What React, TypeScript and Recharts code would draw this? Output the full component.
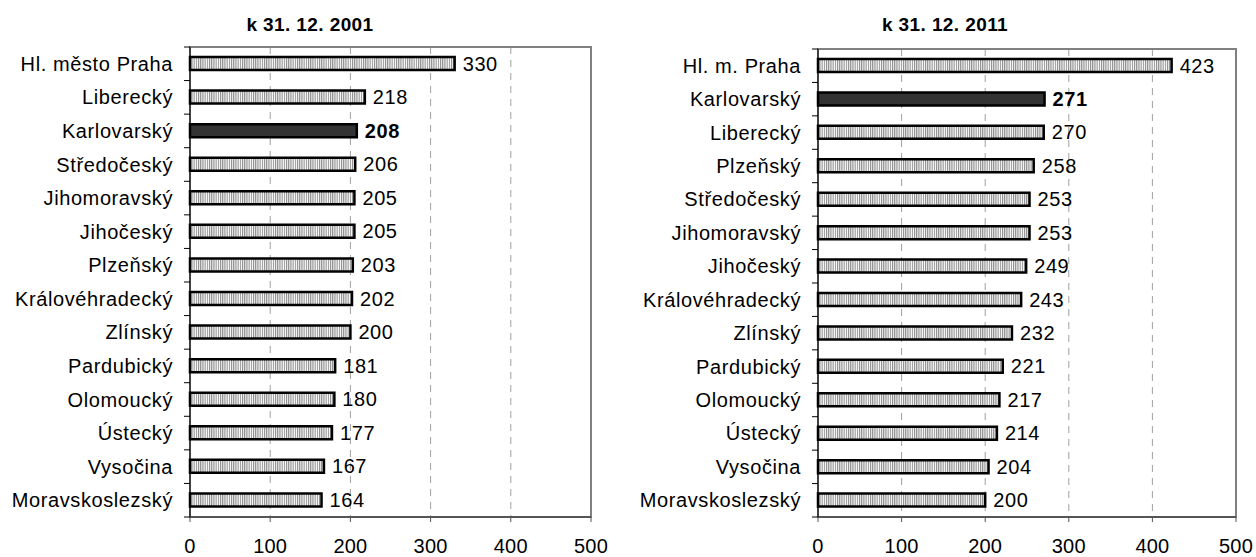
import React from "react";
import { BarChart, Bar, XAxis, YAxis, CartesianGrid, Cell, LabelList, ReferenceArea } from "recharts";

const cats2001 = ["Hl. město Praha", "Liberecký", "Karlovarský", "Středočeský", "Jihomoravský", "Jihočeský", "Plzeňský", "Královéhradecký", "Zlínský", "Pardubický", "Olomoucký", "Ústecký", "Vysočina", "Moravskoslezský"];
const vals2001 = [330, 218, 208, 206, 205, 205, 203, 202, 200, 181, 180, 177, 167, 164];
const cats2011 = ["Hl. m. Praha", "Karlovarský", "Liberecký", "Plzeňský", "Středočeský", "Jihomoravský", "Jihočeský", "Královéhradecký", "Zlínský", "Pardubický", "Olomoucký", "Ústecký", "Vysočina", "Moravskoslezský"];
const vals2011 = [423, 271, 270, 258, 253, 253, 249, 243, 232, 221, 217, 214, 204, 200];
const xTicks = [0, 100, 200, 300, 400, 500];
const highlight = "Karlovarský";
const title2001 = "k 31. 12. 2001";
const title2011 = "k 31. 12. 2011";

const FONT = "'Liberation Sans', Arial, sans-serif";

const CatTick = (props: any) => {
  const { x, y, payload, index, band, n, margin } = props;
  const lx1 = x + margin;
  const lx2 = x + margin + 6;
  return (
    <g>
      <line x1={lx1} x2={lx2} y1={y - band / 2} y2={y - band / 2} stroke="#000" strokeWidth={1} />
      {index === n - 1 && (
        <line x1={lx1} x2={lx2} y1={y + band / 2} y2={y + band / 2} stroke="#000" strokeWidth={1} />
      )}
      <text x={x} y={y} textAnchor="end" dominantBaseline="central" fontSize={20} letterSpacing={0.6} fill="#000" fontFamily={FONT}>
        {payload.value}
      </text>
    </g>
  );
};

const ValueLabel = (props: any) => {
  const { x, y, width, height, value, index, names } = props;
  const bold = names[index] === highlight;
  return (
    <text x={x + width + 8} y={y + height / 2} dominantBaseline="central" fontSize={20} letterSpacing={0.6} fontWeight={bold ? "bold" : "normal"} fill="#000" fontFamily={FONT}>
      {value}
    </text>
  );
};

function Panel(props: { cats: string[]; vals: number[]; title: string; left: number; width: number; top: number; right: number; titleCenter: number; pid: string }) {
  const { cats, vals, title, left, width, top, right, titleCenter, pid } = props;
  const data = cats.map((c, i) => ({ name: c, v: vals[i] }));
  const H = 557;
  const xAxisH = 40;
  const band = (H - top - xAxisH) / cats.length;
  return (
    <div style={{ position: "absolute", left, top: 0, width, height: H }}>
      <div style={{ position: "absolute", left: titleCenter - 150, width: 300, top: 15, textAlign: "center", fontFamily: FONT, fontWeight: "bold", fontSize: 19, lineHeight: "20px", letterSpacing: 0.4, color: "#000" }}>
        {title}
      </div>
      <BarChart width={width} height={H} data={data} layout="vertical" margin={{ top, right, bottom: 0, left: 0 }} barCategoryGap={0}>
        <defs>
          <pattern id={pid} x={0} y={0} width={2.2} height={4} patternUnits="userSpaceOnUse">
            <rect x={0} y={0} width={2.2} height={4} fill="#ffffff" />
            <rect x={0} y={0} width={1.1} height={4} fill="#8a8a8a" />
          </pattern>
        </defs>
        <CartesianGrid horizontal={false} vertical={true} stroke="#a0a0a0" strokeDasharray="7 6" />
        <ReferenceArea x1={0} x2={500} stroke="#808080" strokeWidth={2} fill="none" fillOpacity={0} />
        <XAxis type="number" domain={[0, 500]} ticks={xTicks} height={xAxisH} tickSize={5} tickMargin={17} axisLine={{ stroke: "#555", strokeWidth: 2 }} tickLine={{ stroke: "#555" }} tick={{ fontSize: 20, fill: "#000", fontFamily: FONT, letterSpacing: 0.2 }} interval={0} />
        <YAxis type="category" dataKey="name" width={190} axisLine={{ stroke: "#000", strokeWidth: 1 }} tickLine={false} tickSize={6} tickMargin={11} interval={0} tick={<CatTick band={band} n={cats.length} margin={11} />} />
        <Bar dataKey="v" barSize={13} stroke="#000" strokeWidth={2.5} isAnimationActive={false}>
          {data.map((d, i) => (
            <Cell key={i} fill={d.name === highlight ? "#333333" : `url(#${pid})`} />
          ))}
          <LabelList dataKey="v" content={<ValueLabel names={cats} />} />
        </Bar>
      </BarChart>
    </div>
  );
}

export default function App() {
  return (
    <div style={{ position: "absolute", left: 0, top: 0, width: 1256, height: 557, background: "#fff" }}>
      <Panel cats={cats2001} vals={vals2001} title={title2001} left={0} width={620} top={47} right={29} titleCenter={310} pid="stripesA" />
      <Panel cats={cats2011} vals={vals2011} title={title2011} left={628} width={628} top={49} right={20} titleCenter={317} pid="stripesB" />
    </div>
  );
}
